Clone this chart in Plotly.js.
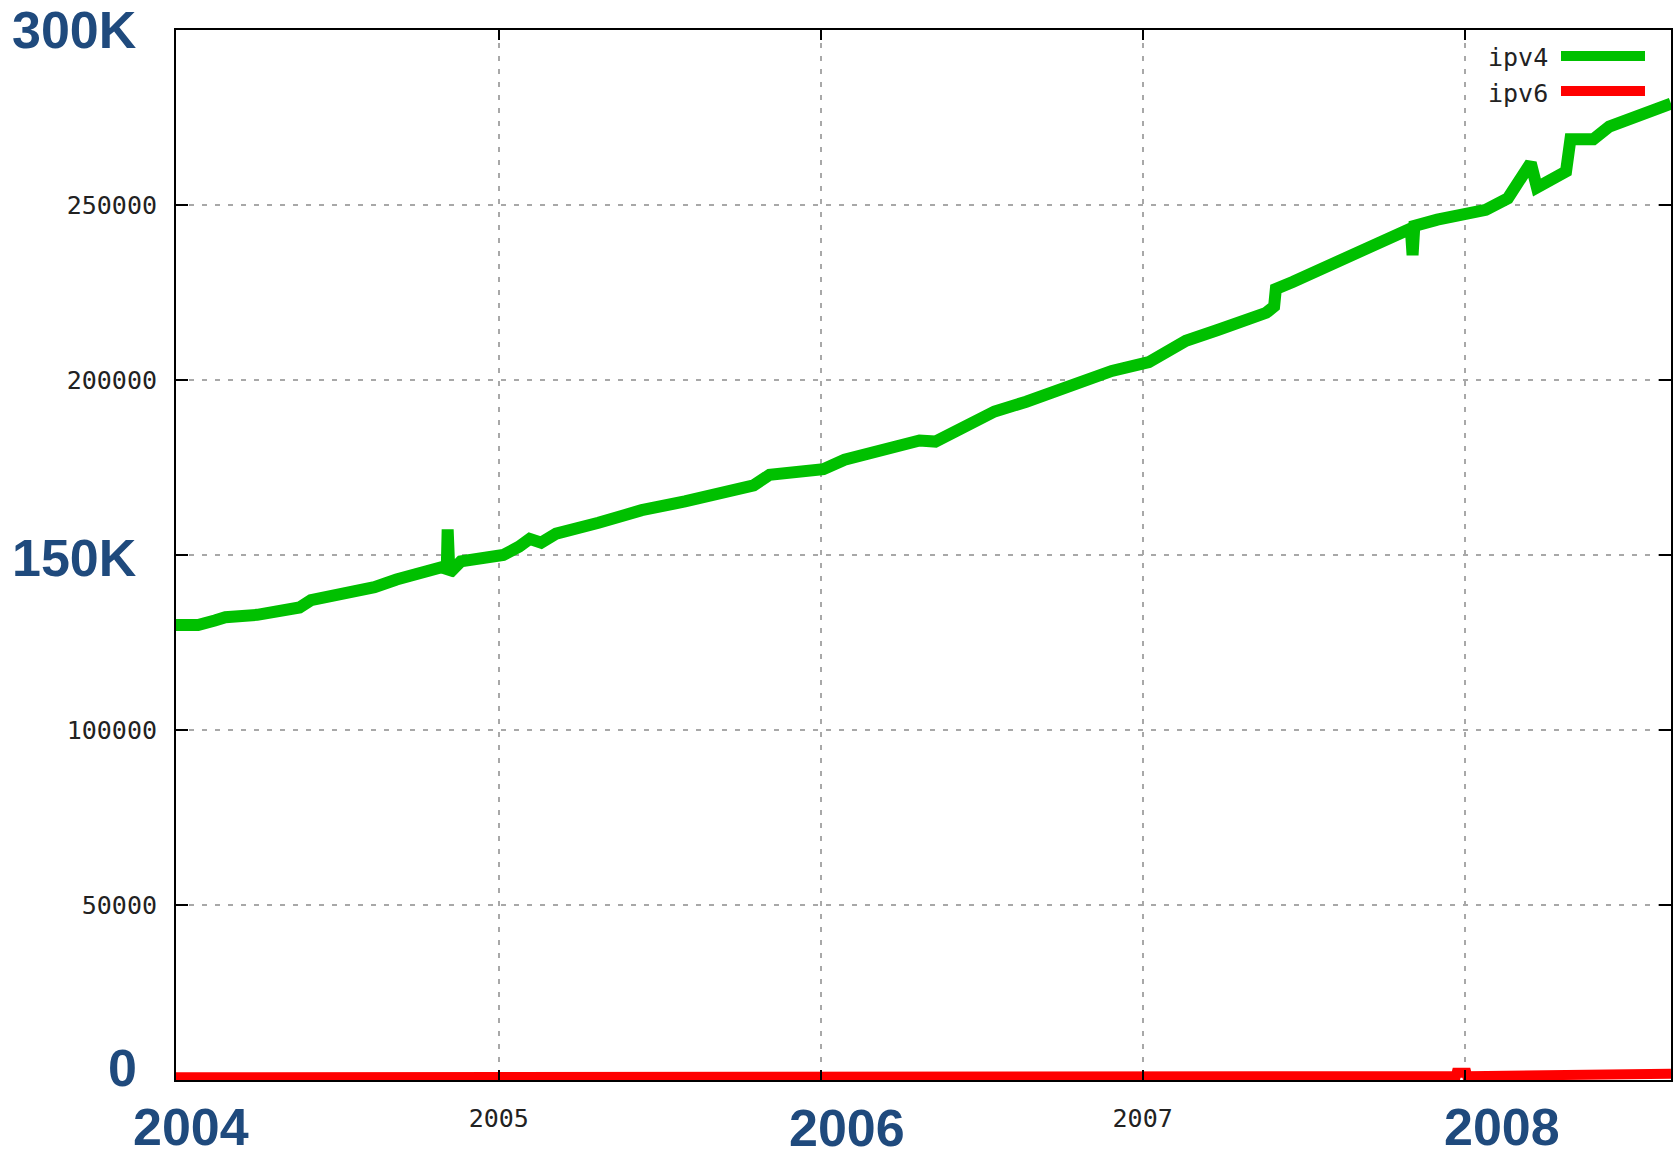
<!DOCTYPE html>
<html>
<head>
<meta charset="utf-8">
<script src="https://cdn.plot.ly/plotly-3.0.1.min.js"></script>
<style>
html,body{margin:0;padding:0;background:#fff;}
#chart{width:1680px;height:1156px;}
</style>
</head>
<body>
<div id="chart"></div>
<script>
// ---- data ----
const ipv4Dates = [
  '2004-01-01','2004-01-26','2004-02-14','2004-02-26','2004-04-02','2004-05-02','2004-05-20','2004-06-02',
  '2004-07-08','2004-08-13','2004-09-07','2004-10-13','2004-10-28','2004-11-03','2004-11-04','2004-11-06',
  '2004-11-19','2004-12-13','2005-01-06','2005-01-24','2005-02-05','2005-02-18','2005-03-07','2005-04-24',
  '2005-06-12','2005-07-31','2005-09-17','2005-10-17','2005-11-04','2005-11-28','2006-01-04','2006-01-28',
  '2006-03-18','2006-04-23','2006-05-11','2006-05-30','2006-06-23','2006-07-17','2006-08-22','2006-10-10',
  '2006-11-27','2007-01-08','2007-01-26','2007-02-19','2007-03-27','2007-05-03','2007-05-21','2007-05-30',
  '2007-06-01','2007-06-20','2007-07-26','2007-09-01','2007-10-07','2007-11-01','2007-11-03','2007-11-05',
  '2007-12-01','2008-01-01','2008-01-25','2008-02-19','2008-03-16','2008-03-23','2008-04-25','2008-04-30',
  '2008-05-26','2008-06-13','2008-07-13','2008-08-22'
];
const ipv4Values = [
  130000,130000,131300,132200,132900,134000,135000,137100,
  138700,140800,143000,145400,146500,146000,157300,144800,
  148200,149400,150000,152400,154600,153500,156100,159200,
  162800,165300,168400,169900,172900,173300,174500,177200,
  180600,182700,182400,184900,188300,191000,193800,198400,
  202600,205100,207500,211200,214300,217300,219200,221000,
  226000,228000,232000,236000,240000,243300,235700,244000,
  245800,247300,248600,251900,262000,255000,259600,268800,
  268800,272400,275500,279000
];
const ipv6Dates = [
  '2004-01-01','2004-07-01','2005-01-01','2005-07-01','2006-01-01','2006-07-01','2007-01-01','2007-07-01',
  '2007-12-22','2007-12-23','2008-01-03','2008-01-04','2008-01-10','2008-01-11','2008-08-22'
];
const ipv6Values = [
  800,850,900,950,1000,1000,1050,1050,
  1100,2100,2100,1100,1100,1700,1800
];
const seriesNames = ['ipv4','ipv6'];
const yTickVals = [50000,100000,150000,200000,250000];
const yTickText = ['50000','100000','','200000','250000'];
const xTickVals = ['2005-01-01','2006-01-01','2007-01-01','2008-01-01'];
const xTickText = ['2005','','2007',''];
const bigYLabels = ['300K','150K','0'];
const bigXLabels = ['2004','2006','2008'];

// ---- layout geometry ----
const W = 1680, H = 1156;
const M = {l:176, r:9, t:30, b:76};
const PW = W - M.l - M.r, PH = H - M.t - M.b;
const px = x => (x - M.l) / PW;          // pixel -> paper x
const py = y => (M.t + PH - y) / PH;     // pixel -> paper y

const blue = '#1f4a7d';
const monoFont = {family:'DejaVu Sans Mono, Liberation Mono, monospace', size:25, color:'#222'};
const bigFont = {family:'Liberation Sans, Arial, sans-serif', size:52, color:blue, weight:'bold'};

const traces = [
  {x: ipv4Dates, y: ipv4Values, name: seriesNames[0], type:'scatter', mode:'lines',
   line:{color:'#00c000', width:12}},
  {x: ipv6Dates, y: ipv6Values, name: seriesNames[1], type:'scatter', mode:'lines',
   line:{color:'#ff0000', width:10}}
];

const bigYPos = [30, 558, 1068];
const bigXPos = [[191,1127],[847,1128],[1502,1127]];
const annotations = [];
bigYLabels.forEach((t,i)=>annotations.push({
  text:'<b>'+t+'</b>', xref:'paper', yref:'paper', x:px(139), y:py(bigYPos[i]),
  xanchor:'right', yanchor:'middle', showarrow:false, font:bigFont
}));
bigXLabels.forEach((t,i)=>annotations.push({
  text:'<b>'+t+'</b>', xref:'paper', yref:'paper', x:px(bigXPos[i][0]), y:py(bigXPos[i][1]),
  xanchor:'center', yanchor:'middle', showarrow:false, font:bigFont
}));
// legend (gnuplot style: text left of the sample line)
const legY = [56, 91];
const legColors = ['#00c000','#ff0000'];
const shapes = [];
seriesNames.forEach((n,i)=>{
  annotations.push({text:n, xref:'paper', yref:'paper', x:px(1550), y:py(legY[i]+2),
    xanchor:'right', yanchor:'middle', showarrow:false, font:monoFont});
  shapes.push({type:'line', xref:'paper', yref:'paper', x0:px(1561), x1:px(1645),
    y0:py(legY[i]), y1:py(legY[i]), line:{color:legColors[i], width:10}});
});

const gridStyle = {gridcolor:'#a8a8a8', gridwidth:2, griddash:'5px,8px'};

const layout = {
  width: W, height: H,
  margin: M,
  paper_bgcolor:'#ffffff', plot_bgcolor:'#ffffff',
  showlegend:false,
  xaxis: Object.assign({
    type:'date', range:['2004-01-01','2008-08-22'],
    tickmode:'array', tickvals:xTickVals, ticktext:xTickText,
    showgrid:true, zeroline:false,
    showline:true, linecolor:'#000', linewidth:2, mirror:'ticks',
    ticks:'inside', ticklen:10, tickwidth:2, tickcolor:'#000',
    ticklabelstandoff:15, tickfont:monoFont, tickangle:0
  }, gridStyle),
  yaxis: Object.assign({
    range:[0,300000],
    tickmode:'array', tickvals:yTickVals, ticktext:yTickText,
    showgrid:true, zeroline:false,
    showline:true, linecolor:'#000', linewidth:2, mirror:'ticks',
    ticks:'inside', ticklen:12, tickwidth:2, tickcolor:'#000',
    ticklabelstandoff:12, tickfont:monoFont
  }, gridStyle),
  annotations: annotations,
  shapes: shapes
};

Plotly.newPlot('chart', traces, layout, {displayModeBar:false, staticPlot:true});
</script>
</body>
</html>
